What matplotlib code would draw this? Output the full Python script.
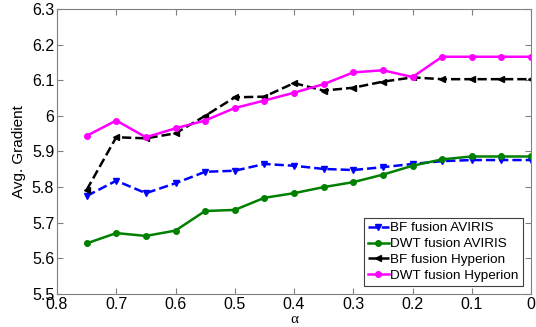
import matplotlib
matplotlib.use("Agg")
import matplotlib.pyplot as plt

# alpha values (x axis runs from 0.8 down to 0)
alpha = [0.75, 0.7, 0.65, 0.6, 0.55, 0.5, 0.45, 0.4, 0.35, 0.3, 0.25, 0.2, 0.15, 0.1, 0.05, 0.0]

bf_aviris = [5.775, 5.818, 5.783, 5.811, 5.843, 5.846, 5.865, 5.860, 5.851, 5.848,
             5.856, 5.865, 5.873, 5.876, 5.876, 5.876]
dwt_aviris = [5.642, 5.671, 5.663, 5.678, 5.733, 5.736, 5.770, 5.783, 5.800, 5.814,
              5.835, 5.860, 5.878, 5.886, 5.886, 5.886]
bf_hyperion = [5.792, 5.940, 5.937, 5.951, 6.000, 6.052, 6.054, 6.092, 6.071, 6.079,
               6.096, 6.108, 6.103, 6.103, 6.103, 6.103]
dwt_hyperion = [5.944, 5.987, 5.940, 5.965, 5.987, 6.022, 6.043, 6.065, 6.089, 6.122,
                6.128, 6.109, 6.166, 6.166, 6.166, 6.166]

y_ticks = [5.5, 5.6, 5.7, 5.8, 5.9, 6.0, 6.1, 6.2, 6.3]
y_labels = ["5.5", "5.6", "5.7", "5.8", "5.9", "6", "6.1", "6.2", "6.3"]
x_ticks = [0.8, 0.7, 0.6, 0.5, 0.4, 0.3, 0.2, 0.1, 0.0]
x_labels = ["0.8", "0.7", "0.6", "0.5", "0.4", "0.3", "0.2", "0.1", "0"]

plt.rcParams["font.family"] = ["Liberation Sans", "DejaVu Sans"]

fig = plt.figure(figsize=(5.36, 3.27), dpi=100)
ax = fig.add_axes([57 / 536, 1 - 294 / 327, 474 / 536, 285 / 327])

ax.plot(alpha, bf_aviris, "--", color="#0000ff", marker="v", markersize=4.5,
        linewidth=1.8, label="BF fusion AVIRIS")
ax.plot(alpha, dwt_aviris, "-", color="#008000", marker="o", markersize=4,
        linewidth=1.8, label="DWT fusion AVIRIS")
ax.plot(alpha, bf_hyperion, "--", color="black", marker="<", markersize=4.5,
        linewidth=1.8, label="BF fusion Hyperion")
ax.plot(alpha, dwt_hyperion, "-", color="#ff00ff", marker="o", markersize=4,
        linewidth=1.8, label="DWT fusion Hyperion")

ax.set_xlim(0.8, 0.0)
ax.set_ylim(5.5, 6.3)
ax.set_xticks(x_ticks)
ax.set_xticklabels(x_labels)
ax.set_yticks(y_ticks)
ax.set_yticklabels(y_labels)
ax.tick_params(direction="in", top=True, right=True, labelsize=11.5,
               length=4, color="#808080", pad=2)
for s in ax.spines.values():
    s.set_color("#808080")

ax.set_ylabel("Avg. Gradient", fontsize=11)
ax.set_xlabel("α", fontsize=11, family=["Liberation Serif", "DejaVu Serif"], labelpad=1)

leg = ax.legend(loc="lower right", fontsize=9.7, handlelength=1.6, handletextpad=0.1,
                borderpad=0.3, labelspacing=0.25, fancybox=False, framealpha=1,
                borderaxespad=0.6)
leg.get_frame().set_edgecolor("#404040")
leg.get_frame().set_linewidth(0.8)

fig.savefig("out.png", dpi=100)
